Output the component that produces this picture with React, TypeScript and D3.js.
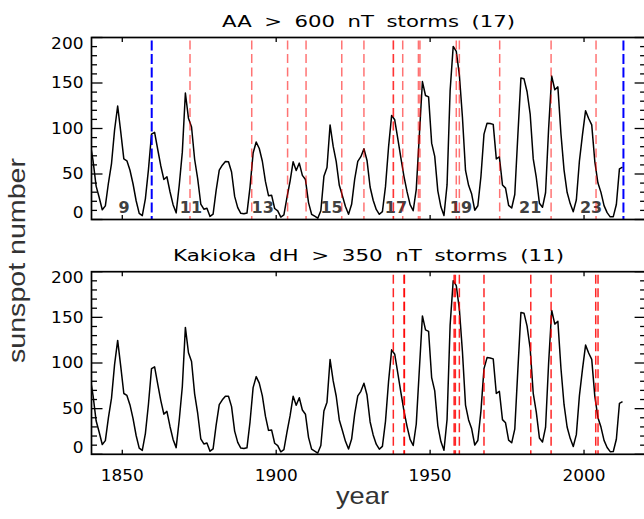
import React from "react";
import * as d3 from "d3";

// ---- data ----
const startYear = 1839;
const sunspots = [
  85.7, 64.6, 36.7, 24.2, 10.7, 15.0, 40.1, 61.5, 98.5, 124.7, 96.3,
  66.6, 64.5, 54.1, 39.0, 20.6, 6.7, 4.3, 22.7, 54.8, 93.8,
  95.8, 77.2, 59.1, 44.0, 47.0, 30.5, 16.3, 7.3, 37.6, 74.0,
  139.0, 111.2, 101.6, 66.2, 44.7, 17.0, 11.3, 12.4, 3.4, 6.0,
  32.3, 54.3, 59.7, 63.7, 63.5, 52.2, 25.4, 13.1, 6.8, 6.3,
  7.1, 35.6, 73.0, 85.1, 78.0, 64.0, 41.8, 26.2, 26.7, 12.1,
  9.5, 2.7, 5.0, 24.4, 42.0, 63.5, 53.8, 62.0, 48.5, 43.9,
  18.6, 5.7, 3.6, 1.4, 9.6, 47.4, 57.1, 103.9, 80.6, 63.6,
  37.6, 26.1, 14.2, 5.8, 16.7, 44.3, 63.9, 69.0, 77.8, 64.9,
  35.7, 21.2, 11.1, 5.7, 8.7, 36.1, 79.7, 114.4, 109.6, 88.8,
  67.8, 47.5, 30.6, 16.3, 9.6, 33.2, 92.6, 151.6, 136.3, 134.7,
  83.9, 69.4, 31.5, 13.9, 4.4, 38.0, 141.7, 190.2, 184.8, 159.0,
  112.3, 53.9, 37.6, 27.9, 10.2, 15.1, 47.0, 93.8, 105.9, 105.5,
  104.5, 66.6, 68.9, 38.0, 34.5, 15.5, 12.6, 27.5, 92.5, 155.4,
  154.6, 140.4, 115.9, 66.6, 45.9, 17.9, 13.4, 29.4, 100.2, 157.6,
  142.6, 145.7, 94.3, 54.6, 29.9, 17.5, 8.6, 21.5, 64.3, 93.3,
  119.6, 111.0, 104.0, 63.7, 40.4, 29.8, 15.2, 7.5, 2.9, 3.1,
  16.5, 55.7, 57.6,
];

const aaStorms = [
  1872.0, 1892.05, 1903.7, 1909.7, 1921.3, 1928.5, 1938.05, 1938.08, 1941.1,
  1946.2, 1946.7, 1958.5, 1959.5, 1972.6, 1989.3, 2003.9,
];
const aaBlue = [1859.56, 2012.8];
const kakiokaStorms = [
  1938.05, 1941.55, 1941.65, 1957.8, 1958.2, 1959.5, 1967.5, 1982.7, 1989.3,
  2003.8, 2004.55,
];

const cycleLabels = ["9", "11", "13", "15", "17", "19", "21", "23"];
const cycleYears = [1850.6, 1872.3, 1895.6, 1918.0, 1938.9, 1960.0, 1982.5, 2002.3];

const xTicks = [1850, 1900, 1950, 2000];
const yMajor = [0, 50, 100, 150, 200];
const yMinor = [10, 20, 30, 40, 60, 70, 80, 90, 110, 120, 130, 140, 160, 170, 180, 190];

const titles = ["AA > 600 nT storms (17)", "Kakioka dH > 350 nT storms (11)"];

// ---- layout ----
const W = 644;
const H = 519;
const X0 = 91.5;
const X1 = 645.6;
const x = d3.scaleLinear().domain([1840, 2020]).range([X0, X1]);

const series = sunspots.map((v, i) => ({ t: startYear + i + 0.5, v }));

type PanelProps = {
  top: number;
  bottom: number;
  title: string;
  titleLen: number;
  red: number[];
  redOpacity: number;
  blue: number[];
  cycles: boolean;
  xLabels: boolean;
  id: string;
};

function Panel(p: PanelProps) {
  const y = d3.scaleLinear().domain([0, 200]).range([p.bottom, p.top]);
  const line = d3
    .line<{ t: number; v: number }>()
    .x((d) => x(d.t))
    .y((d) => y(d.v));
  const clamp = (v: number) => Math.max(p.top + 6, Math.min(p.bottom - 6.5, v));
  const font = "'DejaVu Sans', sans-serif";
  return (
    <g>
      <defs>
        <clipPath id={p.id}>
          <rect x={X0} y={p.top} width={X1 - X0} height={p.bottom - p.top} />
        </clipPath>
      </defs>
      <text
        x={(X0 + X1) / 2}
        y={p.top - 11}
        textAnchor="middle"
        fontFamily={font}
        fontSize={16.5}
        wordSpacing={4.5}
        textLength={p.titleLen}
        lengthAdjust="spacingAndGlyphs"
        fill="#000"
      >
        {p.title}
      </text>
      {p.cycles &&
        cycleLabels.map((c, i) => (
          <text
            key={c}
            x={x(cycleYears[i])}
            y={p.bottom - 6.3}
            textAnchor="middle"
            fontFamily={font}
            fontWeight="bold"
            fontSize={16}
            fill="#404040"
          >
            {c}
          </text>
        ))}
      <path
        d={line(series) || ""}
        fill="none"
        stroke="#000"
        strokeWidth={1.5}
        strokeLinejoin="round"
        clipPath={`url(#${p.id})`}
      />
      {p.red.map((e, i) => (
        <line
          key={"r" + i}
          x1={x(e)}
          x2={x(e)}
          y1={p.top + 3}
          y2={p.bottom}
          stroke="#ff0000"
          strokeOpacity={p.redOpacity}
          strokeWidth={1.5}
          strokeDasharray="9 4.5"
        />
      ))}
      {p.blue.map((e, i) => (
        <line
          key={"b" + i}
          x1={x(e)}
          x2={x(e)}
          y1={p.top + 3}
          y2={p.bottom}
          stroke="#0000ff"
          strokeWidth={2}
          strokeDasharray="10 3.5"
        />
      ))}
      {yMajor.map((v) => (
        <g key={"M" + v}>
          <line x1={X0} x2={X0 + 11} y1={y(v)} y2={y(v)} stroke="#000" strokeWidth={1.3} />
          <line x1={X1} x2={X1 - 11} y1={y(v)} y2={y(v)} stroke="#000" strokeWidth={1.3} />
          <text
            x={83.5}
            y={clamp(y(v))}
            dy="0.36em"
            textAnchor="end"
            fontFamily={font}
            fontSize={15}
            textLength={String(v).length * 10.8}
            lengthAdjust="spacingAndGlyphs"
            fill="#000"
          >
            {v}
          </text>
        </g>
      ))}
      {yMinor.map((v) => (
        <g key={"m" + v}>
          <line x1={X0} x2={X0 + 5.5} y1={y(v)} y2={y(v)} stroke="#000" strokeWidth={1.3} />
          <line x1={X1} x2={X1 - 5.5} y1={y(v)} y2={y(v)} stroke="#000" strokeWidth={1.3} />
        </g>
      ))}
      {xTicks.map((t) => (
        <g key={"x" + t}>
          <line x1={x(t)} x2={x(t)} y1={p.bottom} y2={p.bottom - 4.5} stroke="#000" strokeWidth={1.3} />
          <line x1={x(t)} x2={x(t)} y1={p.top} y2={p.top + 4.5} stroke="#000" strokeWidth={1.3} />
          {p.xLabels && (
            <text
              x={x(t)}
              y={p.bottom + 26.5}
              textAnchor="middle"
              fontFamily={font}
              fontSize={15}
              textLength={43}
              lengthAdjust="spacingAndGlyphs"
              fill="#000"
            >
              {t}
            </text>
          )}
        </g>
      ))}
      <rect
        x={X0}
        y={p.top}
        width={X1 - X0}
        height={p.bottom - p.top}
        fill="none"
        stroke="#000"
        strokeWidth={1.7}
      />
    </g>
  );
}

export default function App() {
  return (
    <svg
      width={W}
      height={H}
      viewBox={`0 0 ${W} ${H}`}
      style={{ position: "absolute", left: 0, top: 0, background: "#fff" }}
    >
      <rect x={0} y={0} width={W} height={H} fill="#fff" />
      <Panel
        id="clipTop"
        top={37.5}
        bottom={219.5}
        title={titles[0]}
        titleLen={293}
        red={aaStorms}
        redOpacity={0.55}
        blue={aaBlue}
        cycles={true}
        xLabels={false}
      />
      <Panel
        id="clipBottom"
        top={271.7}
        bottom={454.3}
        title={titles[1]}
        titleLen={391}
        red={kakiokaStorms}
        redOpacity={0.85}
        blue={[]}
        cycles={false}
        xLabels={true}
      />
      <text
        transform="translate(25,260.5) rotate(-90)"
        textAnchor="middle"
        fontFamily="'Liberation Sans', Arial, sans-serif"
        fontSize={24}
        textLength={205}
        lengthAdjust="spacingAndGlyphs"
        fill="#333"
      >
        sunspot number
      </text>
      <text
        x={362.5}
        y={503.5}
        textAnchor="middle"
        fontFamily="'Liberation Sans', Arial, sans-serif"
        fontSize={24}
        textLength={53}
        lengthAdjust="spacingAndGlyphs"
        fill="#333"
      >
        year
      </text>
    </svg>
  );
}
